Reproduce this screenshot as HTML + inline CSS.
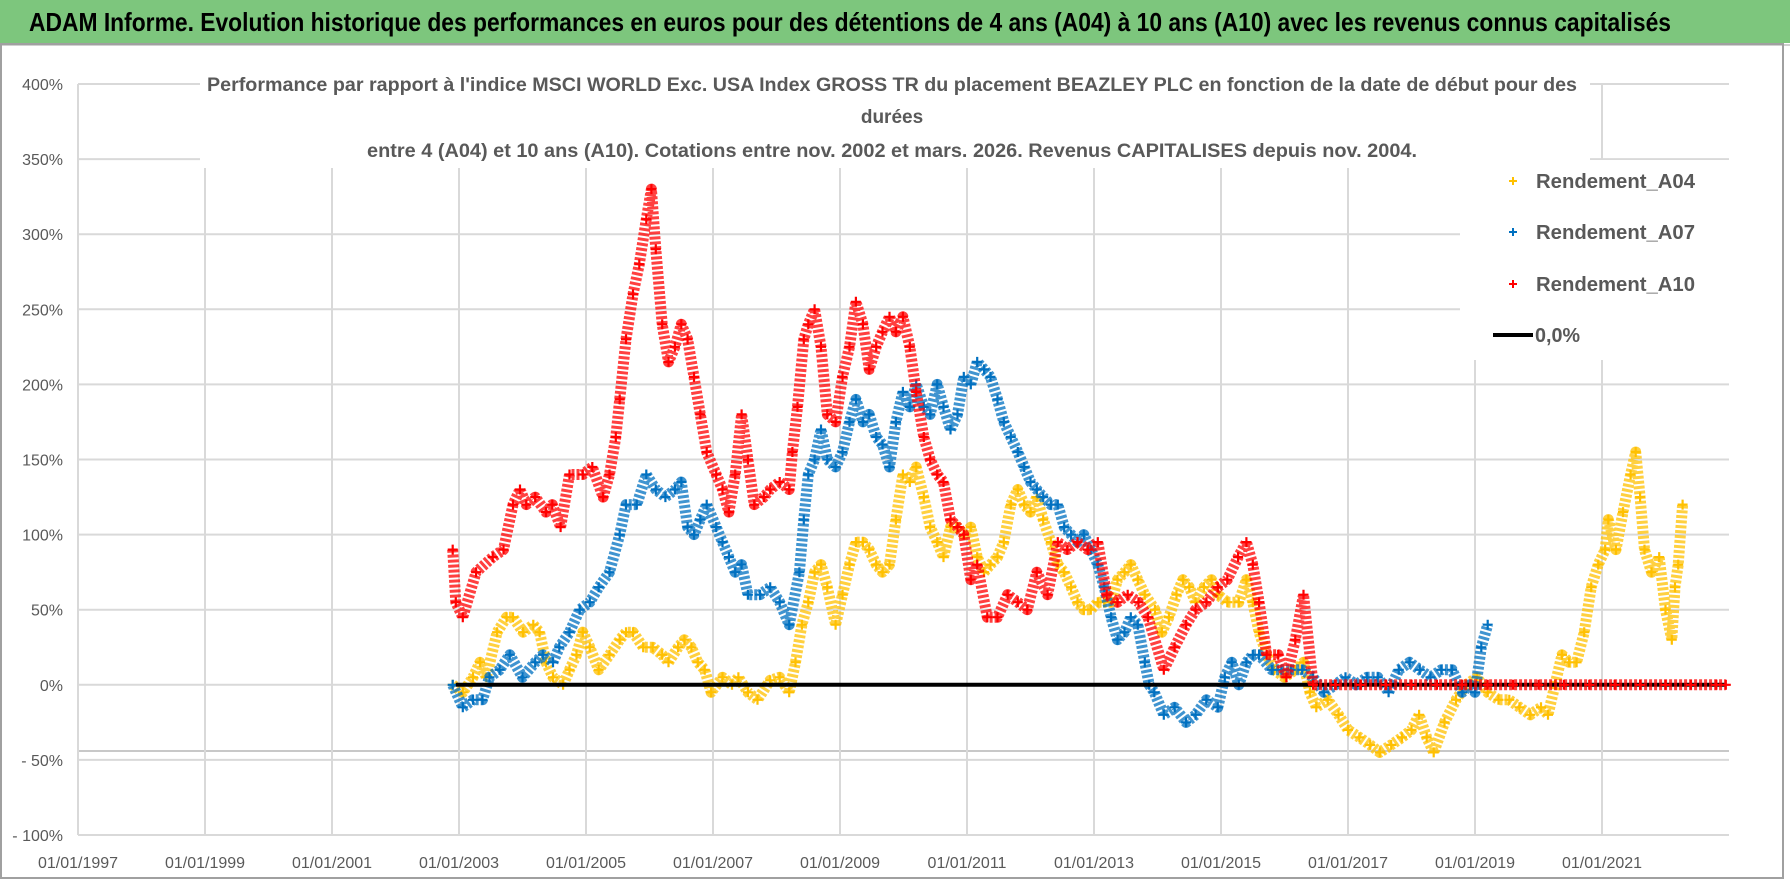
<!DOCTYPE html>
<html><head><meta charset="utf-8">
<style>
html,body{margin:0;padding:0;background:#fff;}
body{width:1790px;height:886px;overflow:hidden;font-family:"Liberation Sans",sans-serif;}
svg{display:block;}
</style></head>
<body>
<svg id="chart" width="1790" height="886" viewBox="0 0 1790 886" xmlns="http://www.w3.org/2000/svg">
  <rect x="0" y="0" width="1790" height="886" fill="#ffffff"/>
  <rect x="0" y="0" width="1790" height="43" fill="#7dc67d"/>
  <text x="29" y="31" font-size="26" font-weight="bold" fill="#000" textLength="1642" lengthAdjust="spacingAndGlyphs">ADAM Informe. Evolution historique des performances en euros pour des détentions de 4 ans (A04) à 10 ans (A10) avec les revenus connus capitalisés</text>
  <line x1="0" y1="45" x2="1790" y2="45" stroke="#d0d0d0" stroke-width="2"/>
  <rect x="1" y="44" width="1782" height="834" fill="none" stroke="#a0a0a0" stroke-width="2"/>
  <g id="grid"></g>
  <g id="axes"></g>
  <g id="series"></g>
  <rect x="200" y="66" width="1390" height="102" fill="#fff"/>
  <text x="892" y="91" font-size="19" font-weight="bold" fill="#595959" text-anchor="middle" textLength="1370" lengthAdjust="spacingAndGlyphs">Performance par rapport à l'indice MSCI WORLD Exc. USA Index GROSS TR  du placement BEAZLEY PLC en fonction de la date de début pour des</text>
  <text x="892" y="123" font-size="19" font-weight="bold" fill="#595959" text-anchor="middle">durées</text>
  <text x="892" y="157" font-size="19" font-weight="bold" fill="#595959" text-anchor="middle" textLength="1050" lengthAdjust="spacingAndGlyphs">entre 4 (A04) et 10 ans (A10). Cotations entre nov. 2002 et mars. 2026. Revenus CAPITALISES depuis nov. 2004.</text>
  <g>
    <rect x="1460" y="160" width="270" height="200" fill="#fff"/>
    <g>
      <path d="M1509 181h8M1513 177v8" stroke="#FFC000" stroke-width="2"/>
      <text x="1536" y="188" font-size="20" font-weight="bold" fill="#595959" textLength="159" lengthAdjust="spacingAndGlyphs">Rendement_A04</text>
    </g>
    <g>
      <path d="M1509 232h8M1513 228v8" stroke="#0070C0" stroke-width="2"/>
      <text x="1536" y="239" font-size="20" font-weight="bold" fill="#595959" textLength="159" lengthAdjust="spacingAndGlyphs">Rendement_A07</text>
    </g>
    <g>
      <path d="M1509 284h8M1513 280v8" stroke="#FF0000" stroke-width="2"/>
      <text x="1536" y="291" font-size="20" font-weight="bold" fill="#595959" textLength="159" lengthAdjust="spacingAndGlyphs">Rendement_A10</text>
    </g>
    <g>
      <line x1="1493" y1="335" x2="1533" y2="335" stroke="#000" stroke-width="4"/>
      <text x="1535" y="342" font-size="20" font-weight="bold" fill="#595959" textLength="45" lengthAdjust="spacingAndGlyphs">0,0%</text>
    </g>
  </g>
</svg>
<script>
// ---- data ----
const yTickValues = [-100, -50, 0, 50, 100, 150, 200, 250, 300, 350, 400];
const yTickLabels = ["- 100%", "- 50%", "0%", "50%", "100%", "150%", "200%", "250%", "300%", "350%", "400%"];
const xTickYears = [1997, 1999, 2001, 2003, 2005, 2007, 2009, 2011, 2013, 2015, 2017, 2019, 2021];
const xTickLabels = ["01/01/1997", "01/01/1999", "01/01/2001", "01/01/2003", "01/01/2005", "01/01/2007", "01/01/2009", "01/01/2011", "01/01/2013", "01/01/2015", "01/01/2017", "01/01/2019", "01/01/2021"];
const zeroLineStart = 2002.95;
const zeroLineEnd = 2022.95;

const a04Dates = [2002.9,2003.06,2003.22,2003.33,2003.43,2003.6,2003.75,2003.85,2004.01,2004.17,2004.27,2004.37,2004.48,2004.64,2004.74,2004.85,2004.95,2005.06,2005.2,2005.37,2005.53,2005.63,2005.74,2005.9,2006.05,2006.2,2006.3,2006.45,2006.55,2006.66,2006.76,2006.87,2006.97,2007.15,2007.3,2007.4,2007.55,2007.7,2007.9,2008.05,2008.2,2008.3,2008.4,2008.5,2008.6,2008.7,2008.8,2008.93,2009.04,2009.15,2009.25,2009.36,2009.46,2009.57,2009.67,2009.78,2009.88,2009.99,2010.1,2010.2,2010.32,2010.42,2010.53,2010.63,2010.74,2010.85,2010.95,2011.06,2011.16,2011.27,2011.37,2011.48,2011.58,2011.69,2011.8,2011.9,2012.0,2012.1,2012.2,2012.32,2012.43,2012.53,2012.64,2012.74,2012.84,2012.95,2013.06,2013.16,2013.27,2013.37,2013.48,2013.58,2013.69,2013.8,2013.96,2014.07,2014.18,2014.3,2014.4,2014.5,2014.6,2014.73,2014.85,2014.95,2015.1,2015.28,2015.4,2015.5,2015.6,2015.72,2015.84,2016.0,2016.17,2016.3,2016.4,2016.5,2016.68,2016.85,2017.0,2017.18,2017.35,2017.5,2017.68,2017.85,2018.0,2018.12,2018.24,2018.35,2018.52,2018.7,2018.86,2019.03,2019.2,2019.37,2019.54,2019.7,2019.87,2020.04,2020.15,2020.26,2020.37,2020.48,2020.6,2020.72,2020.83,2020.94,2021.05,2021.1,2021.22,2021.33,2021.45,2021.53,2021.6,2021.67,2021.78,2021.9,2022.0,2022.1,2022.15,2022.2,2022.27];
const a04Values = [0,-5,5,15,5,35,45,45,35,40,35,15,5,0,10,20,35,25,10,20,30,35,35,25,25,20,15,25,30,25,15,10,-5,5,0,5,-5,-10,3,5,-5,15,40,55,75,80,65,40,60,80,95,95,90,80,75,80,110,140,135,145,125,105,95,85,105,105,100,105,85,75,80,85,95,120,130,120,115,125,110,95,80,75,65,55,50,50,55,55,55,70,75,80,70,60,50,35,45,60,70,65,55,65,70,60,55,55,70,55,35,20,10,5,10,15,-5,-15,-10,-20,-30,-35,-40,-45,-40,-35,-30,-20,-35,-45,-25,-10,0,5,-5,-10,-10,-15,-20,-15,-20,0,20,15,15,35,65,80,90,110,90,115,140,155,125,90,75,85,50,30,65,80,120];

const a07Dates = [2002.9,2003.06,2003.22,2003.37,2003.48,2003.64,2003.8,2004.0,2004.2,2004.32,2004.48,2004.58,2004.74,2004.9,2005.06,2005.2,2005.37,2005.53,2005.63,2005.8,2005.95,2006.1,2006.25,2006.4,2006.5,2006.6,2006.7,2006.8,2006.9,2007.05,2007.15,2007.25,2007.35,2007.45,2007.55,2007.74,2007.9,2008.05,2008.2,2008.36,2008.43,2008.5,2008.6,2008.7,2008.8,2008.93,2009.04,2009.15,2009.25,2009.36,2009.46,2009.57,2009.67,2009.78,2009.88,2009.99,2010.1,2010.2,2010.32,2010.42,2010.53,2010.63,2010.74,2010.85,2010.95,2011.06,2011.16,2011.27,2011.37,2011.48,2011.58,2011.69,2011.8,2011.9,2012.0,2012.1,2012.2,2012.32,2012.43,2012.53,2012.64,2012.74,2012.84,2012.95,2013.06,2013.16,2013.27,2013.37,2013.48,2013.58,2013.69,2013.8,2013.87,2013.95,2014.1,2014.27,2014.45,2014.6,2014.77,2014.95,2015.06,2015.17,2015.28,2015.4,2015.5,2015.6,2015.8,2015.95,2016.1,2016.28,2016.45,2016.62,2016.8,2016.96,2017.13,2017.3,2017.47,2017.64,2017.8,2017.97,2018.13,2018.3,2018.47,2018.64,2018.8,2018.92,2019.0,2019.1,2019.2];
const a07Values = [0,-15,-10,-10,5,10,20,5,15,20,15,25,35,50,55,65,75,100,120,120,140,130,125,130,135,105,100,110,120,105,95,85,75,80,60,60,65,55,40,75,110,140,150,170,150,145,155,175,190,175,180,165,160,145,175,195,185,200,185,180,200,185,170,180,205,200,215,210,205,190,175,165,155,145,135,130,125,120,120,105,100,95,100,90,80,65,45,30,35,45,40,15,0,-5,-20,-15,-25,-20,-10,-15,5,15,0,15,20,20,10,10,10,10,5,-5,0,5,0,5,5,-5,10,15,10,5,10,10,-5,0,-5,25,40];

const a10Dates = [2002.9,2002.95,2003.06,2003.27,2003.53,2003.7,2003.85,2003.96,2004.06,2004.2,2004.37,2004.47,2004.6,2004.74,2004.95,2005.1,2005.27,2005.37,2005.47,2005.53,2005.63,2005.74,2005.84,2005.95,2006.03,2006.1,2006.2,2006.3,2006.4,2006.5,2006.6,2006.7,2006.8,2006.9,2007.05,2007.15,2007.25,2007.35,2007.45,2007.55,2007.65,2007.8,2007.9,2008.05,2008.2,2008.25,2008.33,2008.43,2008.5,2008.6,2008.7,2008.8,2008.93,2009.04,2009.15,2009.25,2009.36,2009.46,2009.57,2009.67,2009.78,2009.88,2009.99,2010.1,2010.2,2010.32,2010.42,2010.53,2010.63,2010.74,2010.85,2010.95,2011.06,2011.16,2011.32,2011.48,2011.64,2011.8,2011.95,2012.1,2012.27,2012.43,2012.58,2012.74,2012.9,2013.06,2013.2,2013.37,2013.53,2013.7,2013.85,2014.1,2014.27,2014.45,2014.6,2014.77,2014.95,2015.1,2015.27,2015.4,2015.5,2015.6,2015.72,2015.9,2016.03,2016.17,2016.3,2016.45,2016.8,2017.2,2017.6,2018.0,2018.4,2018.8,2019.2,2019.6,2020.0,2020.4,2020.8,2021.2,2021.6,2022.0,2022.4,2022.8,2022.95];
const a10Values = [90,55,45,75,85,90,120,130,120,125,115,120,105,140,140,145,125,140,165,190,230,260,280,310,330,290,240,215,225,240,230,205,180,155,140,130,115,140,180,150,120,125,130,135,130,155,185,230,240,250,225,180,175,205,225,255,240,210,225,235,245,235,245,225,195,165,150,140,135,110,105,100,70,80,45,45,60,55,50,75,60,95,90,95,90,95,60,55,60,55,45,10,25,40,50,55,65,70,85,95,80,55,20,20,5,30,60,0,0,0,0,0,0,0,0,0,0,0,0,0,0,0,0,0,0];

// ---- axes ----
const PL = 78, PR = 1729, PT = 84, PB = 835;
const X0 = 1997, X1 = 2023;
function xs(yr){ return PL + (yr - X0) / (X1 - X0) * (PR - PL); }
function ys(v){ return PB - (v + 100) / 500 * (PB - PT); }

const NS = "http://www.w3.org/2000/svg";
function mk(tag, parent){ const e = document.createElementNS(NS, tag); parent.appendChild(e); return e; }

const grid = document.getElementById('grid');
const axes = document.getElementById('axes');
const series = document.getElementById('series');

yTickValues.forEach((v, i) => {
  const l = mk('line', grid);
  
  
  l.setAttribute('x1', PL); l.setAttribute('x2', PR);
  l.setAttribute('y1', ys(v)); l.setAttribute('y2', ys(v));
  l.setAttribute('stroke', '#d9d9d9'); l.setAttribute('stroke-width', '2');
  const t = mk('text', axes);
  
  
  t.setAttribute('x', 63); t.setAttribute('y', ys(v) + 6);
  t.setAttribute('text-anchor', 'end'); t.setAttribute('font-size', '16');
  t.setAttribute('fill', '#595959');
  t.textContent = yTickLabels[i];
});
{
  const l = mk('line', grid);
  
  
  l.setAttribute('x1', PL); l.setAttribute('x2', PR);
  l.setAttribute('y1', 751); l.setAttribute('y2', 751);
  l.setAttribute('stroke', '#c8c8c8'); l.setAttribute('stroke-width', '2');
}
xTickYears.forEach((yr, i) => {
  const l = mk('line', grid);
  
  
  l.setAttribute('x1', xs(yr)); l.setAttribute('x2', xs(yr));
  l.setAttribute('y1', PT); l.setAttribute('y2', PB);
  l.setAttribute('stroke', '#d9d9d9'); l.setAttribute('stroke-width', '2');
  const t = mk('text', axes);
  
  
  t.setAttribute('x', xs(yr)); t.setAttribute('y', 868);
  t.setAttribute('text-anchor', 'middle'); t.setAttribute('font-size', '16');
  t.setAttribute('fill', '#595959');
  t.textContent = xTickLabels[i];
});

function drawSeries(dates, values, color, name){
  const g = mk('g', series);
  
  
  const pts = dates.map((d, i) => xs(d).toFixed(1) + ',' + ys(values[i]).toFixed(1)).join(' ');
  const band = mk('polyline', g);
  
  
  band.setAttribute('points', pts);
  band.setAttribute('fill', 'none'); band.setAttribute('stroke', color);
  band.setAttribute('stroke-width', '11'); band.setAttribute('stroke-linejoin', 'round');
  band.setAttribute('stroke-dasharray', '3 2');
  band.setAttribute('opacity', '0.75');
  let d = '';
  dates.forEach((dt, i) => {
    const x = xs(dt), y = ys(values[i]);
    d += 'M' + (x - 5).toFixed(1) + ' ' + y.toFixed(1) + 'h10M' + x.toFixed(1) + ' ' + (y - 5).toFixed(1) + 'v10';
  });
  const m = mk('path', g);
  
  
  m.setAttribute('d', d);
  m.setAttribute('stroke', color); m.setAttribute('stroke-width', '2.2');
}
drawSeries(a04Dates, a04Values, '#FFC000', 'series-a04');
drawSeries(a07Dates, a07Values, '#0070C0', 'series-a07');
{
  const z = mk('line', series);
  
  
  z.setAttribute('x1', xs(zeroLineStart)); z.setAttribute('x2', xs(zeroLineEnd));
  z.setAttribute('y1', ys(0)); z.setAttribute('y2', ys(0));
  z.setAttribute('stroke', '#000'); z.setAttribute('stroke-width', '4');
}
drawSeries(a10Dates, a10Values, '#FF0000', 'series-a10');
</script>
</body></html>
